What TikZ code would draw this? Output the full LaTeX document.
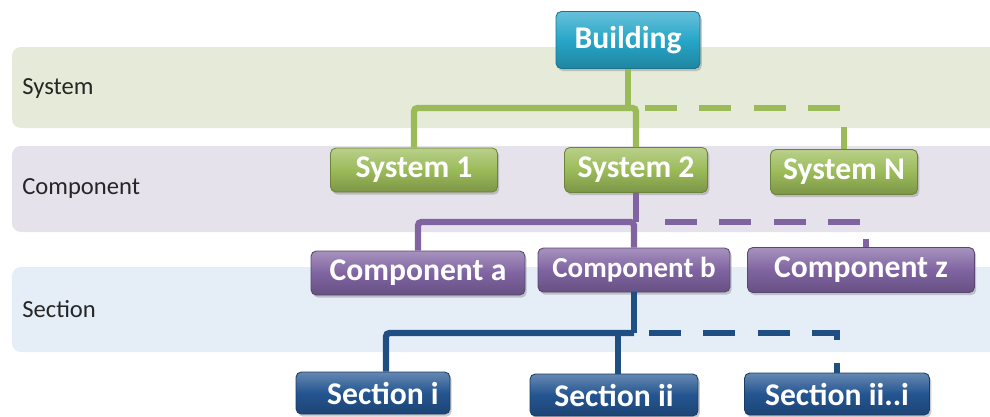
\documentclass[tikz,border=0pt]{standalone}
\usepackage{fontspec}
\setmainfont{Carlito}
\usetikzlibrary{shadows}

\definecolor{bldcol}{HTML}{27A6C9}
\definecolor{syscol}{HTML}{9BBB59}
\definecolor{cmpcol}{HTML}{8064A2}
\definecolor{seccol}{HTML}{245590}
\definecolor{secline}{HTML}{1F4E82}
\definecolor{sysband}{HTML}{E5EBD8}
\definecolor{cmpband}{HTML}{E6E2EC}
\definecolor{secband}{HTML}{E5EDF7}

\begin{document}
\begin{tikzpicture}[
    x=0.02cm, y=-0.02cm,
    band/.style={
        fill=#1,
        rounded corners=5pt
    },
    bandlabel/.style={
        anchor=west,
        inner sep=0pt,
        text=black!85,
        font=\fontsize{14}{16}\selectfont
    },
    box/.style={
        draw=#1!70!black,
        line width=0.5pt,
        rounded corners=3pt,
        top color=#1!70!white,
        bottom color=#1!80!black,
        middle color=#1,
        text=white,
        inner sep=0pt,
        font=\fontsize{18}{21}\selectfont\bfseries,
        drop shadow={opacity=0.4, shadow xshift=1pt, shadow yshift=-1.5pt}
    },
    link/.style={
        draw=#1,
        line width=3.6pt
    },
    dashlink/.style={
        dash pattern=on 18pt off 13pt
    }
]
\useasboundingbox (0,0) rectangle (990,416);

% Bands
\fill[band=sysband] (12,47) rectangle (1000,128);
\fill[band=cmpband] (12,146) rectangle (1000,232);
\fill[band=secband] (12,267) rectangle (1000,352);
\node[bandlabel] (lsys) at (22,88) {System};
\node[bandlabel] (lcmp) at (22,188) {Component};
\node[bandlabel] (lsec) at (22,309) {Section};

% Nodes
\node[box=bldcol, minimum width=2.88cm, minimum height=1.14cm] (building) at (628,40) {Building};

\node[box=syscol, minimum width=3.34cm, minimum height=0.88cm] (sys1) at (414,170) {System 1};
\node[box=syscol, minimum width=2.86cm, minimum height=0.9cm] (sys2) at (636,170) {System 2};
\node[box=syscol, minimum width=2.94cm, minimum height=0.9cm] (sysN) at (844,172) {System N};

\node[box=cmpcol, minimum width=4.28cm, minimum height=0.88cm] (cmpa) at (418,273) {Component a};
\node[box=cmpcol, minimum width=3.84cm, minimum height=0.88cm, font=\fontsize{16.5}{20}\selectfont\bfseries] (cmpb) at (634,270) {Component b};
\node[box=cmpcol, minimum width=4.54cm, minimum height=0.9cm] (cmpz) at (861,270) {Component z};

\node[box=seccol, minimum width=3.08cm, minimum height=0.84cm] (sec1) at (373,393) {\hspace{0.4cm}Section i};
\node[box=seccol, minimum width=3.36cm, minimum height=0.84cm] (sec2) at (614,395) {Section ii};
\node[box=seccol, minimum width=3.7cm, minimum height=0.84cm] (sec3) at (837,394) {Section ii..i};

% Junctions
\coordinate (sysbus) at (636,108);
\coordinate (cmpbus) at (634,222);
\coordinate (secbus) at (634,333);

% Connections
\draw[link=syscol] (building) -- (building |- sysbus);
\draw[link=syscol, rounded corners=2pt] (sys1) |- (sysbus) -- (sys2);
\draw[link=syscol, dashlink] ([xshift=0.18cm]sysbus) -| (sysN);

\draw[link=cmpcol] (sys2) -- (sys2 |- cmpbus);
\draw[link=cmpcol, rounded corners=2pt] (cmpa) |- (cmpbus) -- (cmpb);
\draw[link=cmpcol, dashlink] ([xshift=0.62cm]cmpbus) -| ([xshift=0.1cm]cmpz.north);

\draw[link=secline] (cmpb) -- (cmpb |- secbus);
\draw[link=secline, rounded corners=2pt] ([xshift=0.26cm]sec1.north) |- (secbus);
\draw[link=secline] ([xshift=0.08cm]sec2.north) -- ([xshift=0.08cm]sec2.north |- secbus);
\draw[link=secline, dashlink] ([xshift=0.3cm]secbus) -| (sec3);

\end{tikzpicture}
\end{document}
